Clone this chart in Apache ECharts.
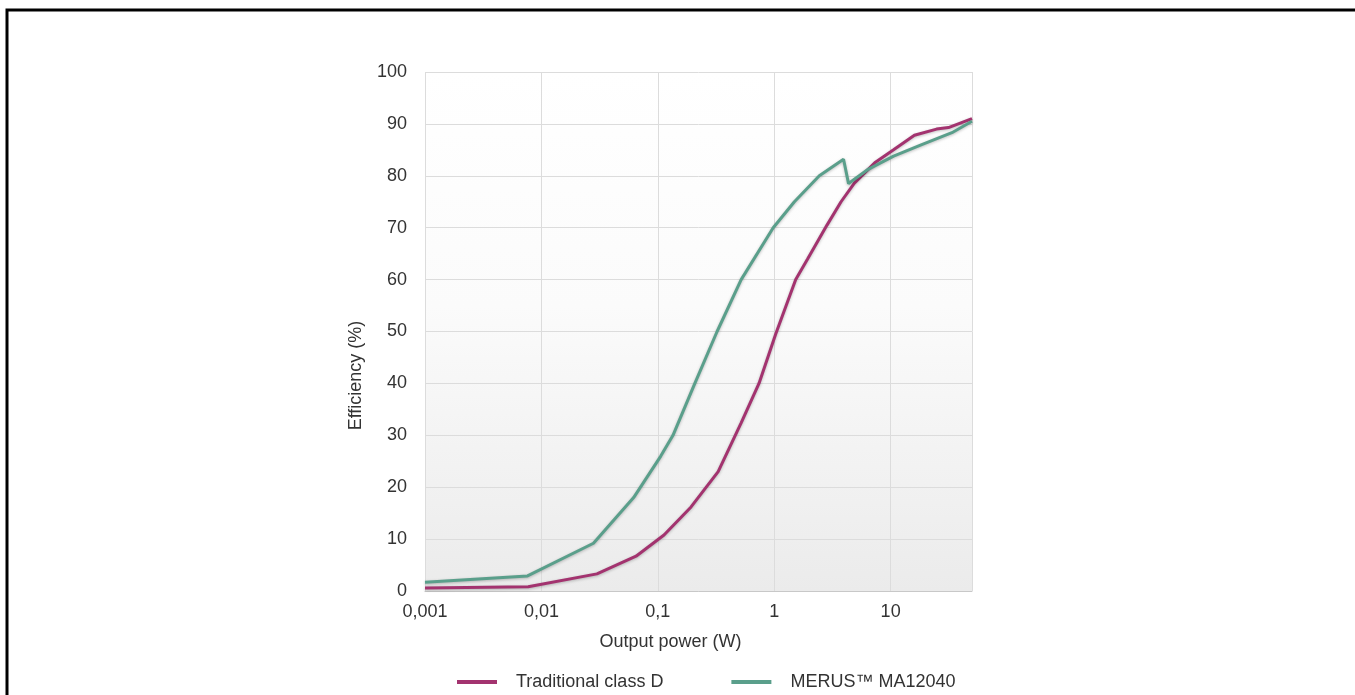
<!DOCTYPE html>
<html>
<head>
<meta charset="utf-8">
<title>Efficiency vs output power</title>
<script src="https://cdn.jsdelivr.net/npm/echarts@6/dist/echarts.min.js"></script>
<style>
    html, body { margin: 0; padding: 0; background: #fff; }
    #chart { width: 1355px; height: 695px; }
</style>
</head>
<body>
<div id="chart"></div>
<script>
// output power (W) and efficiency (%)
var classDPower = [0.001, 0.0077, 0.030, 0.065, 0.113, 0.193, 0.33, 0.52, 0.74, 1.03, 1.53, 1.94, 2.84, 3.75, 4.88, 7.3, 10.6, 16, 24.8, 31.4, 50];
var classDEff = [0.6, 0.8, 3.3, 6.7, 10.8, 16.2, 23, 32.4, 40, 49.5, 60, 64, 70.5, 75, 78.6, 82.5, 85, 87.8, 89, 89.3, 91];

var merusPower = [0.001, 0.0076, 0.028, 0.062, 0.106, 0.135, 0.208, 0.323, 0.52, 0.98, 1.49, 2.44, 3.94, 4.35, 6.46, 10.6, 18.5, 33.6, 50];
var merusEff = [1.7, 2.9, 9.2, 18.0, 26, 30, 40, 50, 60, 70, 75, 80, 83.2, 78.5, 81.3, 83.8, 86, 88.3, 90.5];

var seriesNames = ['Traditional class D', 'MERUS\u2122 MA12040'];
var seriesColors = ['#a3336f', '#5a9f8b'];

var yTicks = [0, 100, 10];   // min, max, interval
var xRange = [0.001, 50];

function pairUp(xs, ys)
{
    var out = [];
    for (var i = 0; i < xs.length; i++)
    {
        out.push([xs[i], ys[i]]);
    }
    return out;
}

function powerLabel(v)
{
    var lg = Math.log(v) / Math.LN10;
    var e = Math.round(lg);
    if (Math.abs(lg - e) > 0.01)
        return '';
    if (e < 0)
        return '0,' + new Array(-e).join('0') + '1';
    return '1' + new Array(e + 1).join('0');
}

var font = '"Liberation Sans", Arial, sans-serif';
var textColor = '#333';

var myChart = echarts.init(document.getElementById('chart'));

var option = {
    backgroundColor: '#fff',
    animation: false,
    textStyle: { fontFamily: font },
    graphic: [
        {
            type: 'rect',
            shape: { x: 7, y: 10, width: 2000, height: 2000 },
            style: { fill: 'none', stroke: '#000', lineWidth: 3 },
            silent: true
        }
    ],
    grid: {
        left: 425,
        right: 383,
        top: 72,
        bottom: 104,
        show: true,
        borderWidth: 0,
        backgroundColor: {
            type: 'linear', x: 0, y: 0, x2: 0, y2: 1,
            colorStops: [
                { offset: 0, color: '#ffffff' },
                { offset: 0.45, color: '#fbfbfb' },
                { offset: 1, color: '#ebebeb' }
            ]
        }
    },
    legend: {
        left: 452,
        top: 668,
        itemWidth: 40,
        itemHeight: 4,
        itemGap: 68,
        icon: 'rect',
        data: seriesNames,
        textStyle: {
            fontSize: 18,
            color: textColor,
            fontFamily: font,
            padding: [0, 0, 0, 14]
        }
    },
    xAxis: {
        type: 'log',
        logBase: 10,
        min: xRange[0],
        max: xRange[1],
        name: 'Output power (W)',
        nameLocation: 'middle',
        nameGap: 42,
        nameTextStyle: {
            fontSize: 18,
            color: textColor,
            fontFamily: font,
            padding: [0, 56, 0, 0]
        },
        axisLine: { show: true, lineStyle: { color: '#c8c8c8', width: 1 } },
        axisTick: { show: false },
        axisLabel: {
            fontSize: 18,
            color: textColor,
            margin: 12,
            showMaxLabel: false,
            formatter: powerLabel
        },
        splitLine: { show: true, lineStyle: { color: '#dcdcdc', width: 1 } },
        minorTick: { show: false },
        minorSplitLine: { show: false }
    },
    yAxis: {
        type: 'value',
        min: yTicks[0],
        max: yTicks[1],
        interval: yTicks[2],
        name: 'Efficiency (%)',
        nameLocation: 'middle',
        nameRotate: 90,
        nameGap: 60,
        nameTextStyle: {
            fontSize: 18,
            color: textColor,
            fontFamily: font,
            padding: [0, 88, 0, 0]
        },
        axisLine: { show: false },
        axisTick: { show: false },
        axisLabel: { fontSize: 18, color: textColor, margin: 18 },
        splitLine: { show: true, lineStyle: { color: '#dcdcdc', width: 1 } }
    },
    series: [
        {
            name: seriesNames[0],
            type: 'line',
            showSymbol: false,
            color: seriesColors[0],
            lineStyle: {
                width: 3,
                color: seriesColors[0],
                shadowColor: 'rgba(0,0,0,0.25)',
                shadowBlur: 3,
                shadowOffsetY: 1
            },
            data: pairUp(classDPower, classDEff)
        },
        {
            name: seriesNames[1],
            type: 'line',
            showSymbol: false,
            color: seriesColors[1],
            lineStyle: {
                width: 3,
                color: seriesColors[1],
                shadowColor: 'rgba(0,0,0,0.25)',
                shadowBlur: 3,
                shadowOffsetY: 1
            },
            data: pairUp(merusPower, merusEff)
        }
    ]
};
myChart.setOption(option);
</script>
</body>
</html>
